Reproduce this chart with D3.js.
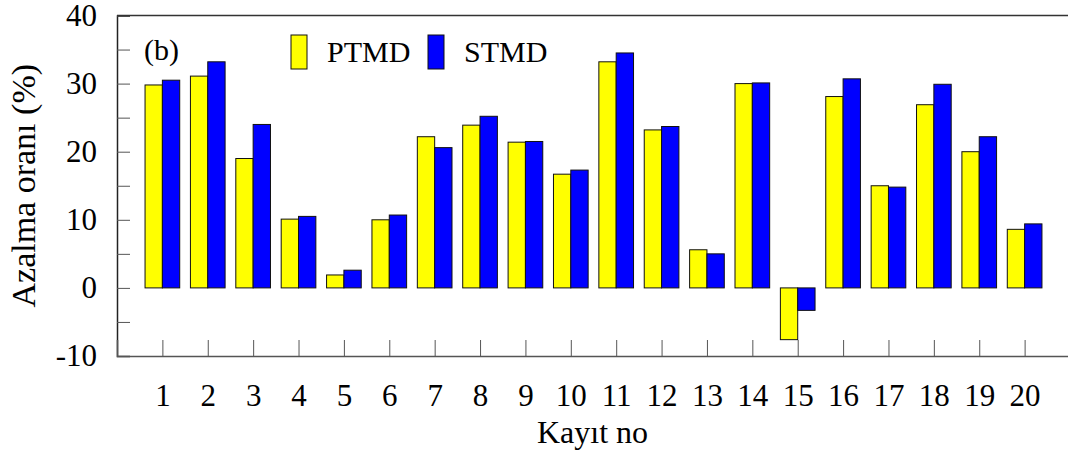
<!DOCTYPE html>
<html>
<head>
<meta charset="utf-8">
<script src="https://cdn.jsdelivr.net/npm/d3@7"></script>
<style>
  body { margin: 0; background: #fff; }
  svg text { font-family: "Liberation Serif", "Times New Roman", serif; fill: #000; }
</style>
</head>
<body>
<svg id="chart" width="1068" height="458"></svg>
<script>
// Kayıt no 1..20
const records = d3.range(1, 21);
const ptmd = [29.8, 31.1, 19.0, 10.1, 1.9, 10.0, 22.2, 23.9, 21.4, 16.7,
              33.2, 23.2, 5.6, 30.0, -7.6, 28.1, 15.0, 26.9, 20.0, 8.6];
const stmd = [30.5, 33.2, 24.0, 10.5, 2.6, 10.7, 20.6, 25.2, 21.5, 17.3,
              34.5, 23.7, 5.0, 30.1, -3.3, 30.7, 14.8, 29.9, 22.2, 9.4];
const yTicks = d3.range(-10, 41, 5);
const seriesNames = ["PTMD", "STMD"];
const seriesColors = ["#ffff00", "#0000ff"];

const serif = '"Liberation Serif", "Times New Roman", serif';

const svg = d3.select("svg#chart"),
  margin = { top: 15.5, right: 0, bottom: 102, left: 117 },
  width = +svg.attr("width") - margin.left - margin.right,
  height = +svg.attr("height") - margin.top - margin.bottom;

const g = svg.append("g").attr("transform", `translate(${margin.left}, ${margin.top})`);

const x = d3.scaleLinear().domain([0, 21]).range([0, 953]);
const y = d3.scaleLinear().domain([-10, 40]).range([height, 0]);
const barW = x(0.382) - x(0);

// bars
const series = [ptmd, stmd];
series.forEach((vals, s) => {
  g.append("g")
    .selectAll("rect")
    .data(vals)
    .join("rect")
    .attr("x", (d, i) => x(records[i]) + (s === 0 ? -barW : 0))
    .attr("width", barW)
    .attr("y", d => y(Math.max(0, d)))
    .attr("height", d => Math.abs(y(d) - y(0)))
    .attr("fill", seriesColors[s])
    .attr("stroke", "#111")
    .attr("stroke-width", 1);
});

// y axis
g.append("g")
  .call(d3.axisLeft(y).tickValues(yTicks).tickSize(-13).tickPadding(20)
    .tickFormat(d => (d % 10 === 0 ? d : "")))
  .call(a => {
    a.attr("font-family", null);
    a.select(".domain").attr("stroke", "#222").attr("stroke-width", 1.5);
    a.selectAll(".tick line").attr("stroke", "#555");
    a.selectAll(".tick text").style("font-size", "31px").style("font-family", serif);
  });

// x axis
g.append("g")
  .attr("transform", `translate(0, ${height})`)
  .call(d3.axisBottom(x).tickValues(records).tickSize(-16).tickPadding(28))
  .call(a => {
    a.attr("font-family", null);
    a.select(".domain").attr("stroke", "#555").attr("stroke-width", 1.5);
    a.selectAll(".tick line").attr("stroke", "#555");
    a.selectAll(".tick text").style("font-size", "31px").style("font-family", serif);
  });

// top frame line
g.append("line")
  .attr("x1", 0).attr("x2", width)
  .attr("y1", 0).attr("y2", 0)
  .attr("stroke", "#333").attr("stroke-width", 1.5);

// axis titles
svg.append("text")
  .attr("x", margin.left + width / 2)
  .attr("y", 443)
  .attr("text-anchor", "middle")
  .style("font-family", serif)
  .style("font-size", "32px")
  .text("Kayıt no");

svg.append("text")
  .attr("transform", `translate(35, ${margin.top + height / 2}) rotate(-90)`)
  .attr("text-anchor", "middle")
  .style("font-family", serif)
  .style("font-size", "34px")
  .text("Azalma oranı (%)");

// panel label
svg.append("text")
  .attr("x", 144).attr("y", 60)
  .style("font-family", serif)
  .style("font-size", "30px")
  .text("(b)");

// legend
const legendX = [291, 428];
seriesNames.forEach((name, i) => {
  svg.append("rect")
    .attr("x", legendX[i]).attr("y", 35)
    .attr("width", 16).attr("height", 34)
    .attr("fill", seriesColors[i])
    .attr("stroke", "#111");
  svg.append("text")
    .attr("x", legendX[i] + 36).attr("y", 62)
    .style("font-family", serif)
    .style("font-size", "30px")
    .text(name);
});
</script>
</body>
</html>
